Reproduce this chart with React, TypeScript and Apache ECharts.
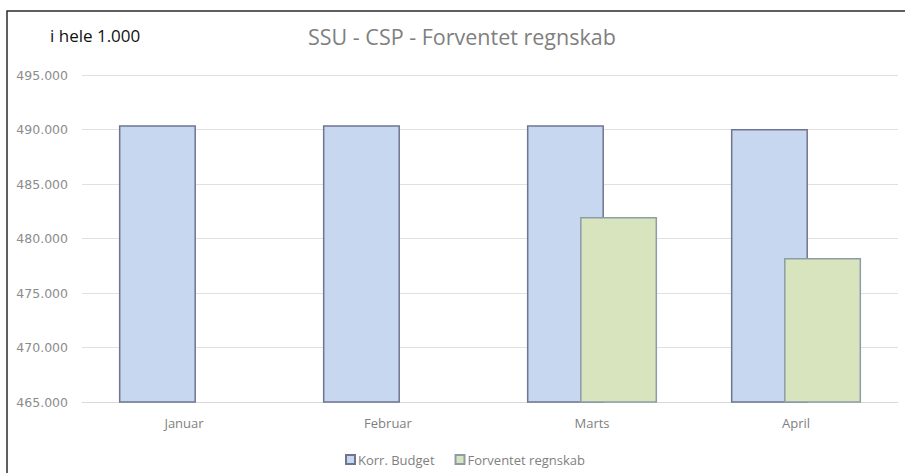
import React, { useEffect, useRef } from "react";
import * as echarts from "echarts";

const categories = ["Januar", "Februar", "Marts", "April"];
const budget = [490400, 490400, 490400, 490050];
const forventet = [465000, 465000, 481970, 478210];
const seriesNames = ["Korr. Budget", "Forventet regnskab"];
const yMin = 465000;
const yMax = 495000;
const yStep = 5000;

const fmt = (v: number) => String(Math.round(v)).replace(/\B(?=(\d{3})+(?!\d))/g, ".");

export default function App() {
  const ref = useRef<HTMLDivElement>(null);
  useEffect(() => {
    if (!ref.current) return;
    const chart = echarts.init(ref.current, undefined, { renderer: "svg" });
    chart.setOption({
      animation: false,
      backgroundColor: "#ffffff",
      textStyle: { fontFamily: "Open Sans" },
      graphic: [
        {
          type: "rect",
          shape: { x: 7, y: 11, width: 950, height: 520 },
          style: { fill: "none", stroke: "#2b2b2b", lineWidth: 1.5 },
          silent: true,
          z: 100,
        },
        {
          type: "text",
          left: 50,
          top: 27,
          style: { text: "i hele 1.000", fill: "#111111", font: "17px 'Open Sans'" },
        },
      ],
      title: {
        text: "SSU - CSP - Forventet regnskab",
        left: 308,
        top: 25,
        padding: 0,
        textStyle: { fontFamily: "Open Sans", fontSize: 21.5, fontWeight: "normal", color: "#7f7f7f" },
      },
      legend: {
        data: seriesNames,
        left: 340,
        top: 448,
        itemWidth: 9,
        itemHeight: 9,
        itemGap: 20,
        icon: "rect",
        textStyle: { color: "#7f7f7f", fontSize: 13, fontFamily: "Open Sans", padding: [0, 0, 0, -2] },
      },
      grid: { left: 82, right: 7, top: 75, bottom: 71 },
      xAxis: {
        type: "category",
        data: categories,
        axisTick: { show: false },
        axisLine: { lineStyle: { color: "#d9d9d9" } },
        axisLabel: { color: "#7f7f7f", fontSize: 13, margin: 14 },
      },
      yAxis: {
        type: "value",
        min: yMin,
        max: yMax,
        interval: yStep,
        axisLine: { show: false },
        axisTick: { show: false },
        splitLine: { lineStyle: { color: "#e0e0e0" } },
        axisLabel: {
          color: "#8c8c8c",
          fontSize: 12.5,
          fontFamily: "DejaVu Sans",
          margin: 14,
          formatter: (v: number) => fmt(v),
        },
      },
      series: [
        {
          name: seriesNames[0],
          type: "bar",
          data: budget,
          barWidth: 77,
          barGap: "-31%",
          itemStyle: { color: "#c7d7f0", borderColor: "#6f7590", borderWidth: 1.5 },
        },
        {
          name: seriesNames[1],
          type: "bar",
          data: forventet,
          barWidth: 77,
          barGap: "-31%",
          itemStyle: { color: "#d7e4bd", borderColor: "#8c9da8", borderWidth: 1.5 },
        },
      ],
    });
    return () => chart.dispose();
  }, []);
  return (
    <div
      ref={ref}
      style={{ position: "absolute", left: 0, top: 0, width: 905, height: 473 }}
    />
  );
}
